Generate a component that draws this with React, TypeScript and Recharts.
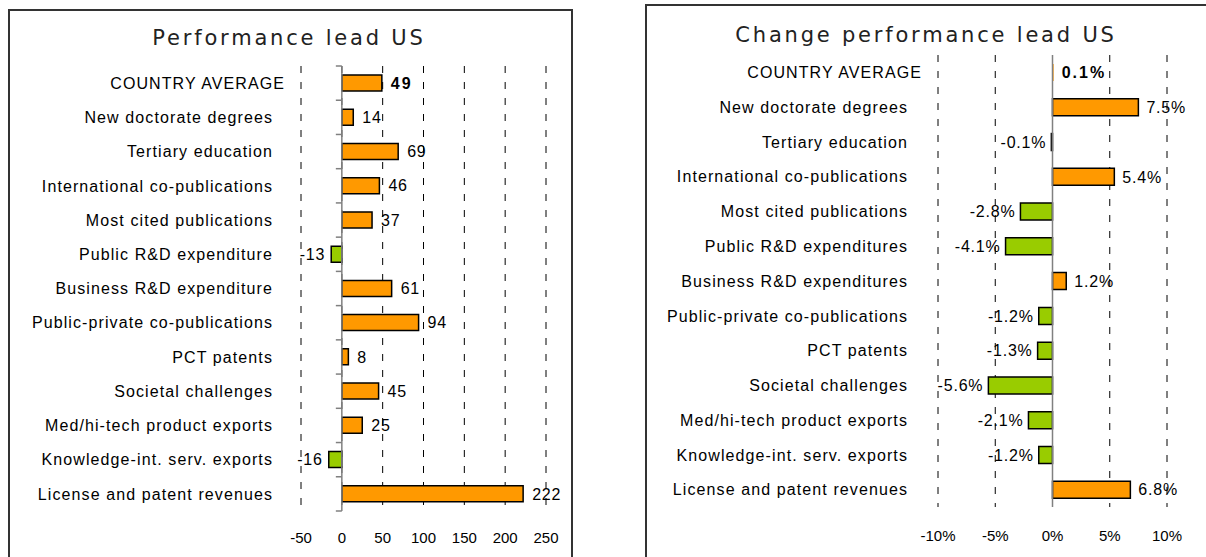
import React from 'react';
import { BarChart, Bar, XAxis, YAxis, CartesianGrid, ReferenceLine, LabelList, Cell } from 'recharts';

const leadCategories = [
  'COUNTRY AVERAGE',
  'New doctorate degrees',
  'Tertiary education',
  'International co-publications',
  'Most cited publications',
  'Public R&D expenditure',
  'Business R&D expenditure',
  'Public-private co-publications',
  'PCT patents',
  'Societal challenges',
  'Med/hi-tech product exports',
  'Knowledge-int. serv. exports',
  'License and patent revenues',
];
const leadValues = [49, 14, 69, 46, 37, -13, 61, 94, 8, 45, 25, -16, 222];
const leadTicks = [-50, 0, 50, 100, 150, 200, 250];

const changeCategories = [
  'COUNTRY AVERAGE',
  'New doctorate degrees',
  'Tertiary education',
  'International co-publications',
  'Most cited publications',
  'Public R&D expenditures',
  'Business R&D expenditures',
  'Public-private co-publications',
  'PCT patents',
  'Societal challenges',
  'Med/hi-tech product exports',
  'Knowledge-int. serv. exports',
  'License and patent revenues',
];
const changeValues = [0.1, 7.5, -0.1, 5.4, -2.8, -4.1, 1.2, -1.2, -1.3, -5.6, -2.1, -1.2, 6.8];
const changeTicks = [-10, -5, 0, 5, 10];

const ORANGE = '#FF9900';
const GREEN = '#99CC00';
const FONT = "'Liberation Sans', Arial, sans-serif";

const leadData = leadCategories.map((name, i) => ({ name, value: leadValues[i] }));
const changeData = changeCategories.map((name, i) => ({ name, value: changeValues[i] }));

const CategoryTick = ({ x, y, payload, shift }: any) => (
  <text
    x={x + (payload.value === 'COUNTRY AVERAGE' ? shift : 0)}
    y={y}
    dy="0.36em"
    textAnchor="end"
    fill="#000"
    fontSize={16}
    letterSpacing={1.1}
    fontFamily={FONT}
  >
    {payload.value}
  </text>
);

const valueLabel = (fmt: (v: number) => string, posGap: number, negGap: number) => (props: any) => {
  const { x, y, width, height, value, index } = props;
  const left = Math.min(x, x + width);
  const right = Math.max(x, x + width);
  const pos = value >= 0;
  return (
    <text
      x={pos ? right + posGap : left - negGap}
      y={y + height / 2}
      dy="0.36em"
      textAnchor={pos ? 'start' : 'end'}
      fontSize={16}
      fontWeight={index === 0 ? 'bold' : 'normal'}
      letterSpacing={index === 0 ? 2 : 0.8}
      fontFamily={FONT}
      fill="#000"
    >
      {fmt(value)}
    </text>
  );
};

// zero line with small ticks at the category boundaries
const ZeroAxis = (props: any) => {
  const { x1, y1, y2, ticks } = props;
  const top = Math.min(y1, y2);
  const bottom = Math.max(y1, y2);
  const n = leadCategories.length;
  const step = (bottom - top) / n;
  return (
    <g>
      <line x1={x1} y1={top} x2={x1} y2={bottom} stroke="#808080" strokeWidth={1.5} />
      {ticks &&
        Array.from({ length: n + 1 }).map((_, i) => (
          <line key={i} x1={x1 - 6} x2={x1} y1={top + i * step} y2={top + i * step} stroke="#808080" strokeWidth={1.5} />
        ))}
    </g>
  );
};

export default function App() {
  return (
    <div style={{ position: 'absolute', left: 0, top: 0, width: 1206, height: 557, overflow: 'hidden', background: '#fff', fontFamily: FONT }}>
      <div style={{ position: 'absolute', left: 8, top: 9, width: 565, height: 620, border: '2px solid #333', boxSizing: 'border-box' }} />
      <div style={{ position: 'absolute', left: 645, top: 4, width: 620, height: 620, border: '2px solid #333', boxSizing: 'border-box' }} />

      <svg style={{ position: 'absolute', left: 0, top: 0 }} width={1206} height={557}>
        <text x={289} y={45} textAnchor="middle" fontFamily="'DejaVu Sans'" fontSize={21} letterSpacing={2.8} fill="#222">
          Performance lead US
        </text>
        <text x={926} y={42} textAnchor="middle" fontFamily="'DejaVu Sans'" fontSize={21} letterSpacing={2.8} fill="#222">
          Change performance lead US
        </text>
      </svg>

      <div style={{ position: 'absolute', left: 0, top: 0 }}>
        <BarChart width={600} height={557} data={leadData} layout="vertical" margin={{ top: 66, right: 54, bottom: 16, left: 0 }}>
          <CartesianGrid horizontal={false} stroke="#000" strokeDasharray="7 9" />
          <XAxis
            type="number"
            domain={[-50, 250]}
            ticks={leadTicks}
            axisLine={false}
            tickLine={false}
            tickSize={0}
            tickMargin={21}
            height={30}
            tick={{ fill: '#000', fontSize: 15, fontFamily: FONT }}
          />
          <YAxis
            type="category"
            dataKey="name"
            width={301}
            axisLine={false}
            tickLine={false}
            tickSize={0}
            tickMargin={28}
            interval={0}
            tick={<CategoryTick shift={12} />}
          />
          <Bar dataKey="value" barSize={16} stroke="#000" strokeWidth={1.5} isAnimationActive={false}>
            {leadData.map((d, i) => (
              <Cell key={i} fill={d.value >= 0 ? ORANGE : GREEN} />
            ))}
            <LabelList dataKey="value" content={valueLabel((v) => `${v}`, 9, 6)} />
          </Bar>
          <ReferenceLine x={0} shape={(p: any) => <ZeroAxis {...p} ticks />} />
        </BarChart>
      </div>

      <div style={{ position: 'absolute', left: 620, top: 0 }}>
        <BarChart width={586} height={557} data={changeData} layout="vertical" margin={{ top: 55, right: 39, bottom: 20, left: 0 }}>
          <CartesianGrid horizontal={false} stroke="#000" strokeDasharray="7 9" />
          <XAxis
            type="number"
            domain={[-10, 10]}
            ticks={changeTicks}
            tickFormatter={(v: number) => `${v}%`}
            axisLine={false}
            tickLine={false}
            tickSize={0}
            tickMargin={23}
            height={30}
            tick={{ fill: '#000', fontSize: 15, fontFamily: FONT }}
          />
          <YAxis
            type="category"
            dataKey="name"
            width={318}
            axisLine={false}
            tickLine={false}
            tickSize={0}
            tickMargin={30}
            interval={0}
            tick={<CategoryTick shift={14} />}
          />
          <Bar dataKey="value" barSize={17} stroke="#000" strokeWidth={1.5} isAnimationActive={false}>
            {changeData.map((d, i) => (
              <Cell key={i} fill={d.value >= 0 ? ORANGE : GREEN} stroke={i === 0 ? 'none' : '#000'} />
            ))}
            <LabelList dataKey="value" content={valueLabel((v) => `${v.toFixed(1)}%`, 8, 5)} />
          </Bar>
          <ReferenceLine x={0} shape={(p: any) => <ZeroAxis {...p} ticks={false} />} />
        </BarChart>
      </div>
    </div>
  );
}
